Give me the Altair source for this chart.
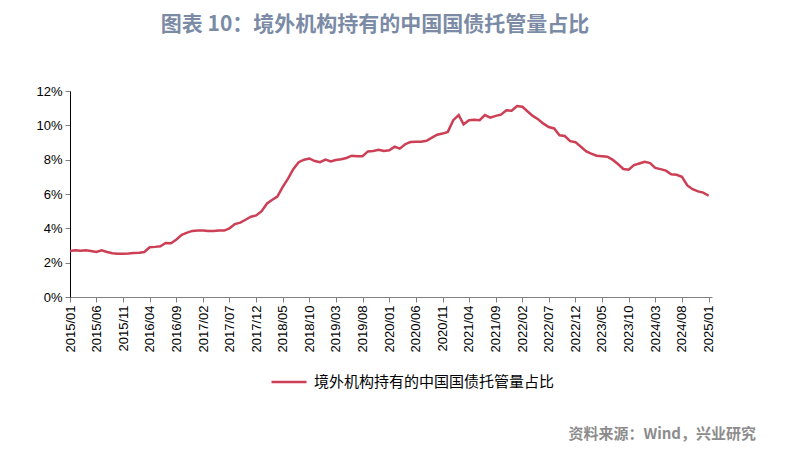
import altair as alt
import pandas as pd

values = [
    2.68, 2.72, 2.70, 2.72, 2.68, 2.62, 2.72, 2.62, 2.55, 2.52,
    2.52, 2.53, 2.56, 2.58, 2.62, 2.90, 2.92, 2.96, 3.15, 3.13,
    3.35, 3.62, 3.75, 3.85, 3.88, 3.88, 3.85, 3.85, 3.87, 3.87,
    4.00, 4.25, 4.33, 4.50, 4.68, 4.75, 5.00, 5.45, 5.65, 5.85,
    6.40, 6.90, 7.45, 7.85, 8.00, 8.07, 7.92, 7.85, 8.00, 7.90,
    7.98, 8.03, 8.10, 8.23, 8.20, 8.20, 8.48, 8.50, 8.58, 8.50,
    8.55, 8.76, 8.64, 8.90, 9.03, 9.05, 9.05, 9.10, 9.28, 9.45,
    9.52, 9.62, 10.30, 10.60, 10.06, 10.30, 10.33, 10.30, 10.60, 10.45,
    10.55, 10.62, 10.88, 10.85, 11.12, 11.08, 10.82, 10.55, 10.35, 10.10,
    9.90, 9.82, 9.42, 9.38, 9.08, 9.02, 8.75, 8.48, 8.35, 8.23,
    8.20, 8.17, 8.00, 7.75, 7.46, 7.42, 7.68, 7.78, 7.88, 7.80,
    7.52, 7.45, 7.36, 7.15, 7.12, 7.00, 6.50, 6.28, 6.15, 6.08,
    5.90,
]
dates = pd.date_range("2015-01-01", periods=len(values), freq="MS")
series_name = "境外机构持有的中国国债托管量占比"
tick_dates = [d.strftime("%Y-%m-%d") for d in dates[::5]]

df = pd.DataFrame({
    "date": dates.strftime("%Y-%m-%d"),
    "value": [v / 100 for v in values],
    "series": series_name,
})

line = alt.Chart(df).mark_line(strokeWidth=2.5, interpolate="linear").encode(
    x=alt.X(
        "date:T",
        scale=alt.Scale(domain=["2015-01-01", "2025-01-20"]),
        axis=alt.Axis(
            values=tick_dates, format="%Y/%m", labelAngle=270, title=None,
            grid=False, labelFontSize=13, labelFont="Liberation Sans",
            labelColor="#000000", domainColor="#808080", tickColor="#808080",
            tickSize=5, labelPadding=3, labelFlush=False, labelOverlap=False,
        ),
    ),
    y=alt.Y(
        "value:Q",
        scale=alt.Scale(domain=[0, 0.12]),
        axis=alt.Axis(
            values=[0, 0.02, 0.04, 0.06, 0.08, 0.10, 0.12], format=".0%",
            title=None, grid=False, labelFontSize=13, labelFont="Liberation Sans",
            labelColor="#000000", domainColor="#000000", tickColor="#808080",
            tickSize=5, labelPadding=3,
        ),
    ),
    color=alt.Color(
        "series:N",
        scale=alt.Scale(range=["#cc3f55"]),
        legend=alt.Legend(
            title=None, orient="none", legendX=200, legendY=272,
            symbolType="stroke", symbolSize=1225, symbolStrokeWidth=2.5,
            labelFontSize=15, labelFont="Noto Sans CJK SC", labelColor="#000000",
            labelLimit=0, labelOffset=6,
        ),
    ),
)

source = alt.Chart(pd.DataFrame({"t": ["资料来源：Wind，兴业研究"]})).mark_text(
    align="right", baseline="middle", fontSize=15, font="Noto Sans CJK SC",
    color="#8c8c8c", fontWeight="bold",
).encode(x=alt.value(686), y=alt.value(343), text="t:N")

chart = alt.layer(line, source).properties(
    width=642,
    height=206,
    autosize=alt.AutoSizeParams(type="none"),
    padding={"left": 62, "top": 83, "right": 68, "bottom": 148},
    title=alt.TitleParams(
        "图表 10：境外机构持有的中国国债托管量占比",
        font="Noto Sans CJK SC", fontSize=21, fontWeight="bold",
        color="#7b8ba6", anchor="middle", offset=50, dx=-16,
    ),
).configure_view(stroke=None)

chart.save("out.html", embed_options={"renderer": "svg", "actions": False})
